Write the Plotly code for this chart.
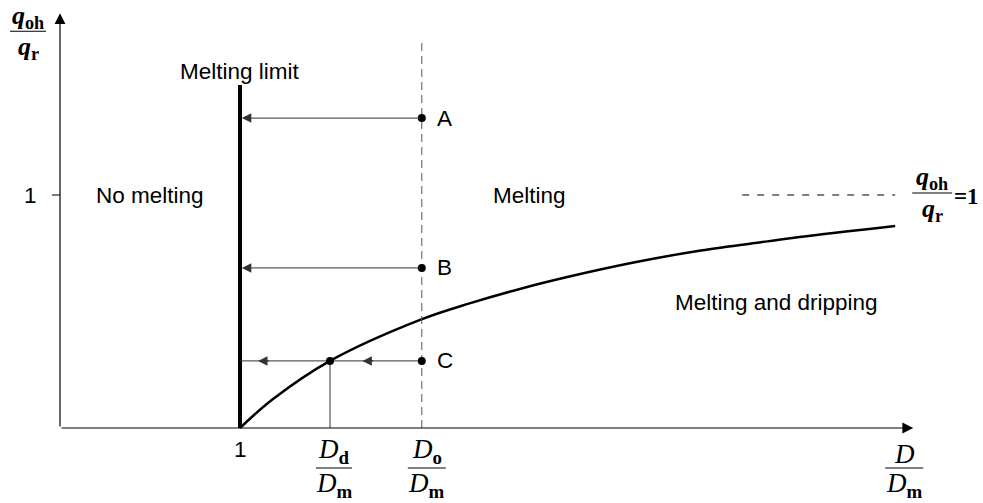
import plotly.graph_objects as go

# boundary curve between "Melting" and "Melting and dripping"
curve_x = [1.0, 1.18, 1.5, 2.0, 2.28, 2.56, 2.83, 3.18, 3.56, 3.93, 4.11, 4.64]
curve_y = [0.0, 0.122, 0.288, 0.464, 0.536, 0.598, 0.65, 0.709, 0.762, 0.801, 0.82, 0.867]

melt_limit = 1.0        # D/Dm at the melting limit
limit_top = 1.472
d_o = 2.01              # Do/Dm
d_o_top = 1.665
d_d = 1.5               # Dd/Dm
point_names = ['A', 'B', 'C']
point_y = [1.33, 0.687, 0.288]
c_arrow_tips = [1.1, 1.68]
ref_x = [3.79, 4.64]    # dashed qoh/qr = 1 line
x_tip = 4.74
y_tip = 1.78

SANS = 'Liberation Sans'
SERIF = 'Liberation Serif'

fig = go.Figure()

fig.add_trace(go.Scatter(x=curve_x, y=curve_y, mode='lines',
                         line=dict(color='black', width=2.5, shape='spline', smoothing=1.0)))
fig.add_trace(go.Scatter(x=[melt_limit, melt_limit], y=[0, limit_top], mode='lines',
                         line=dict(color='black', width=4)))
fig.add_trace(go.Scatter(x=[d_o, d_o], y=[0, d_o_top], mode='lines',
                         line=dict(color='#555', width=1, dash='8px,5px')))
fig.add_trace(go.Scatter(x=[d_d, d_d], y=[0, point_y[2]], mode='lines',
                         line=dict(color='#333', width=1)))
fig.add_trace(go.Scatter(x=[melt_limit, d_o], y=[point_y[2], point_y[2]], mode='lines',
                         line=dict(color='#333', width=1)))
fig.add_trace(go.Scatter(x=ref_x, y=[1, 1], mode='lines',
                         line=dict(color='black', width=1, dash='7px,8px')))
fig.add_trace(go.Scatter(x=[d_o] * 3 + [d_d], y=point_y + [point_y[2]], mode='markers',
                         marker=dict(color='black', size=8)))

# arrows
def arrow(x, y, ax, ay, w=1.0, size=1.9, color='#333'):
    fig.add_annotation(x=x, y=y, ax=ax, ay=ay, xref='x', yref='y', axref='x', ayref='y',
                       text='', showarrow=True, arrowhead=2, arrowsize=size,
                       arrowwidth=w, arrowcolor=color, standoff=0, startstandoff=0)

arrow(x_tip, 0, 0, 0, w=1.2, size=1.8, color='black')
arrow(0, y_tip, 0, 0, w=1.2, size=1.8, color='black')
for y in point_y[:2]:
    arrow(melt_limit + 0.01, y, d_o, y)
for tip in c_arrow_tips:
    arrow(tip, point_y[2], tip + 0.07, point_y[2])

# y tick mark
fig.add_shape(type='line', xref='x', yref='y', xsizemode='pixel', xanchor=0,
              x0=-8, x1=0, y0=1, y1=1, line=dict(color='black', width=1))

def label(x, y, text, size=22.5, font=SANS, dx=0, dy=0):
    fig.add_annotation(x=x, y=y, xref='x', yref='y', xshift=dx, yshift=dy, text=text,
                       showarrow=False, font=dict(family=font, size=size, color='black'))

def frac(x, y, num, den, dx, dy, half, size=26, up=15):
    label(x, y, num, size=size, font=SERIF, dx=dx, dy=dy + up)
    fig.add_shape(type='line', xref='x', yref='y', xsizemode='pixel', ysizemode='pixel',
                  xanchor=x, yanchor=y, x0=dx - half, x1=dx + half, y0=dy, y1=dy,
                  line=dict(color='black', width=1))
    label(x, y, den, size=size, font=SERIF, dx=dx, dy=dy - 17)

q_num = '<b><i>q</i></b><sub><b>oh</b></sub>'
q_den = '<b><i>q</i></b><sub><b>r</b></sub>'

label(0, 1, '1', dx=-30)
label(melt_limit, 0, '1', dy=-21)
label(melt_limit, limit_top, 'Melting limit', dy=14)
label(0.5, 1, 'No melting')
label(2.61, 1, 'Melting')
label(3.98, 0.54, 'Melting and dripping')
for name, y in zip(point_names, point_y):
    label(d_o, y, name, dx=23)

frac(0, y_tip, q_num, q_den, -32, -18, 18, up=14)
frac(ref_x[1], 1, q_num, q_den, 37, 2, 20)
label(ref_x[1], 1, '<b>=1</b>', size=23, font=SERIF, dx=71, dy=-1)
frac(d_d, 0, '<i>D</i><sub><b>d</b></sub>', '<i>D</i><sub><b>m</b></sub>', 4, -40, 18, size=27, up=17)
frac(d_o, 0, '<i>D</i><sub><b>o</b></sub>', '<i>D</i><sub><b>m</b></sub>', 5, -40, 19, size=27, up=17)
frac(x_tip, 0, '<i>D</i>', '<i>D</i><sub><b>m</b></sub>', -9, -40, 19, size=27, up=14)

fig.update_layout(
    width=983, height=503, autosize=False,
    margin=dict(l=0, r=0, t=0, b=0),
    plot_bgcolor='white', paper_bgcolor='white',
    showlegend=False, dragmode=False,
    xaxis=dict(visible=False, range=[-60 / 180, 923 / 180], fixedrange=True),
    yaxis=dict(visible=False, range=[-75 / 233, 428 / 233], fixedrange=True),
)

fig.write_html("out.html", config={'displayModeBar': False},
               post_script="document.body.style.margin='0';")
